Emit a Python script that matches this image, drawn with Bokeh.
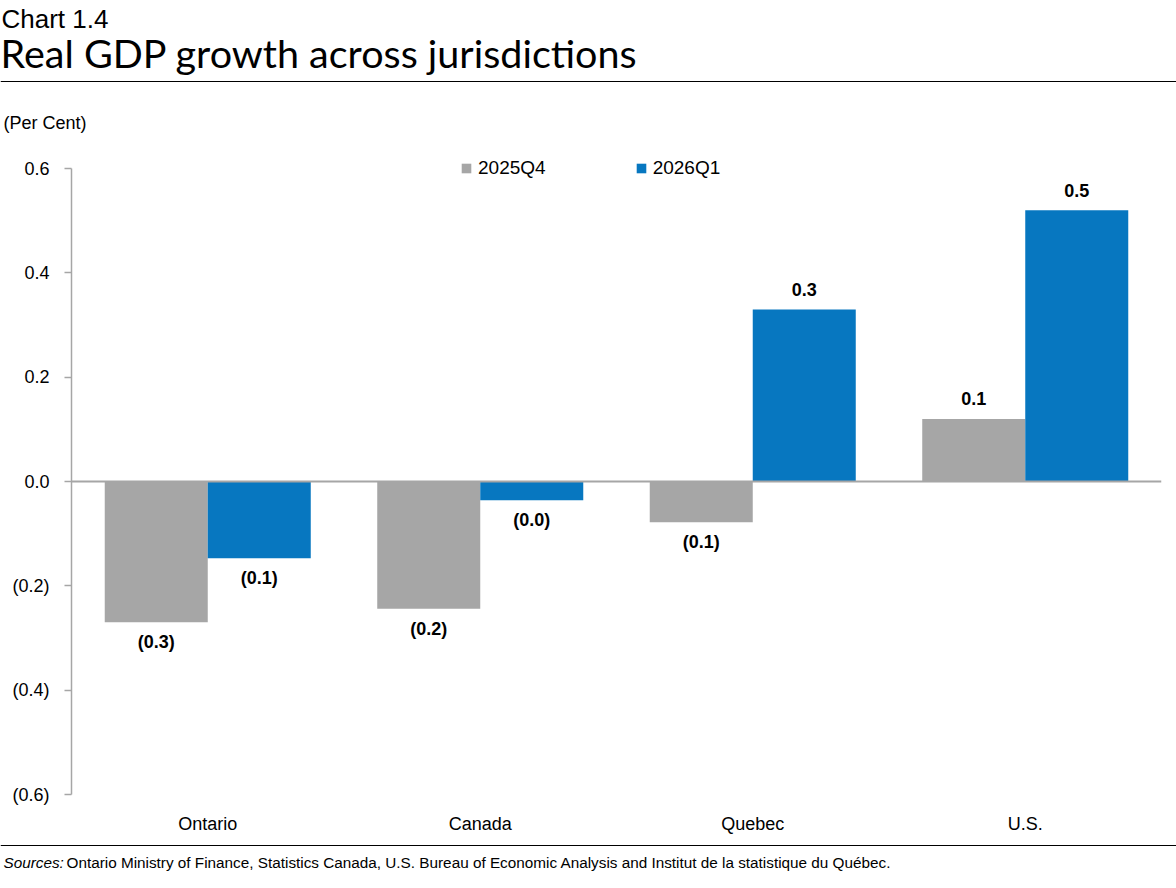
from bokeh.plotting import figure
from bokeh.layouts import column
from bokeh.models import (ColumnDataSource, Range1d, FactorRange, FixedTicker,
                          CustomJSTickFormatter, Span, Legend, LegendItem, LabelSet)
from bokeh.transform import dodge
from bokeh.core.properties import value
from bokeh.embed import file_html
from bokeh.resources import INLINE

# ---- data ----
jurisdictions = ["Ontario", "Canada", "Quebec", "U.S."]
q4_2025 = [-0.27, -0.244, -0.078, 0.12]
q1_2026 = [-0.147, -0.036, 0.33, 0.52]
series_names = ["2025Q4", "2026Q1"]
y_ticks = [-0.6, -0.4, -0.2, 0.0, 0.2, 0.4, 0.6]

GREY = "#A6A6A6"
BLUE = "#0777C0"
FONT = "Liberation Sans"
W = 1176


def fmt(v):
    s = "%.1f" % abs(v)
    return "(%s)" % s if v < 0 else s


def label_source(cats, vals):
    return ColumnDataSource(dict(
        cat=cats, val=vals,
        lab=[fmt(v) for v in vals],
        off=[20 if v >= 0 else -20 for v in vals],
    ))


def blank(height):
    f = figure(width=W, height=height, x_range=Range1d(0, W),
               y_range=Range1d(height, 0), output_backend="svg",
               toolbar_location=None, min_border=0, frame_align=False)
    f.axis.visible = False
    f.grid.visible = False
    f.outline_line_color = None
    return f


# ---- header ----
head = blank(135)
head.text(x=[1], y=[18], text=["Chart 1.4"], text_font=value(FONT),
          text_font_size="26px", text_color="#000000", text_baseline="middle")
head.text(x=[0], y=[52], text=["Real GDP growth across jurisdictions"],
          text_font=value("Lato"), text_font_size="39.5px", text_color="#000000",
          text_baseline="middle")
head.segment(x0=[0], y0=[81], x1=[W], y1=[81], line_color="#000000", line_width=1)
head.text(x=[3], y=[122], text=["(Per Cent)"], text_font=value(FONT),
          text_font_size="18px", text_color="#000000", text_baseline="middle")

# ---- main chart ----
# a little headroom above 0.6 for the legend; the axis line itself stops at 0.6
p = figure(width=W, height=703, x_range=FactorRange(*jurisdictions, range_padding=0),
           y_range=Range1d(-0.6, 0.625), output_backend="svg", toolbar_location=None,
           min_border_left=71, min_border_right=15, min_border_top=20,
           min_border_bottom=44, frame_align=False)
p.outline_line_color = None
p.grid.visible = False

src_a = label_source(jurisdictions, q4_2025)
src_b = label_source(jurisdictions, q1_2026)

r_a = p.vbar(x=dodge("cat", -0.189, range=p.x_range), top="val", bottom=0,
             width=0.378, source=src_a, fill_color=GREY, line_color=None)
r_b = p.vbar(x=dodge("cat", 0.189, range=p.x_range), top="val", bottom=0,
             width=0.378, source=src_b, fill_color=BLUE, line_color=None)

for src, off in ((src_a, -0.189), (src_b, 0.189)):
    p.add_layout(LabelSet(x=dodge("cat", off, range=p.x_range), y="val", text="lab",
                          y_offset="off", source=src, text_align="center",
                          text_baseline="middle", text_font=value(FONT),
                          text_font_size="18px", text_font_style="bold",
                          text_color="#000000"))

p.add_layout(Span(location=0, dimension="width", line_color=GREY, line_width=2))

yax = p.yaxis[0]
yax.bounds = (-0.6, 0.6)
yax.ticker = FixedTicker(ticks=y_ticks)
yax.formatter = CustomJSTickFormatter(code="""
    if (Math.abs(tick) < 1e-9) return '0.0';
    return tick < 0 ? '(' + Math.abs(tick).toFixed(1) + ')' : tick.toFixed(1);
""")
yax.axis_line_color = GREY
yax.axis_line_width = 1.5
yax.major_tick_line_color = GREY
yax.major_tick_line_width = 1.5
yax.major_tick_in = 0
yax.major_tick_out = 7
yax.minor_tick_line_color = None
yax.major_label_standoff = 15
yax.major_label_text_font = FONT
yax.major_label_text_font_size = "18px"
yax.major_label_text_color = "#000000"

xax = p.xaxis[0]
xax.axis_line_color = None
xax.major_tick_line_color = None
xax.minor_tick_line_color = None
xax.major_tick_out = 0
xax.major_label_standoff = 19
xax.major_label_text_font = FONT
xax.major_label_text_font_size = "18px"
xax.major_label_text_color = "#000000"

# legend: location is the bottom-left corner, measured from the frame's bottom-left
legend = Legend(items=[LegendItem(label=series_names[0], renderers=[r_a]),
                       LegendItem(label=series_names[1], renderers=[r_b])],
                orientation="horizontal", location=(389, 615),
                glyph_width=12, glyph_height=12, label_standoff=6, spacing=89,
                padding=0, margin=0, border_line_color=None,
                background_fill_alpha=0, label_text_font=FONT,
                label_text_font_size="19px", label_text_color="#000000",
                label_height=20)
p.add_layout(legend)

# ---- footer ----
foot = blank(50)
foot.segment(x0=[0], y0=[7], x1=[W], y1=[7], line_color="#000000", line_width=1)
foot.text(x=[3], y=[24], text=["Sources:"], text_font=value(FONT),
          text_font_size="15.3px", text_font_style="italic", text_color="#000000",
          text_baseline="middle")
foot.text(x=[66], y=[24],
          text=["Ontario Ministry of Finance, Statistics Canada, U.S. Bureau of Economic "
                "Analysis and Institut de la statistique du Québec."],
          text_font=value(FONT), text_font_size="15.3px", text_color="#000000",
          text_baseline="middle")

page = column(head, p, foot, spacing=0)
open("out.html", "w").write(file_html(page, INLINE))
